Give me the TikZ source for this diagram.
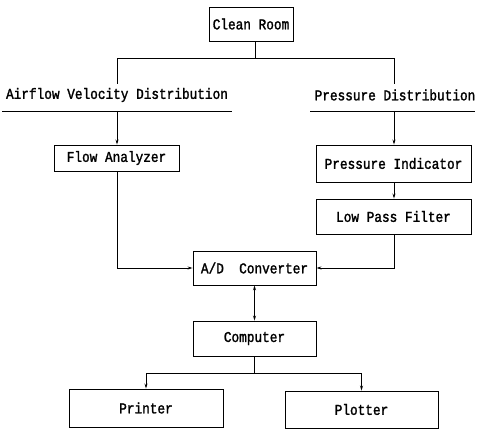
\documentclass[tikz,border=0pt]{standalone}
\usepackage{fontspec}
\setmonofont[FakeStretch=0.85,FakeBold=1.6]{Liberation Mono}
\usetikzlibrary{arrows.meta}
\begin{document}
\begin{tikzpicture}[x=1pt,y=-1pt,
  box/.style={draw,line width=0.9pt,inner sep=0pt,font=\ttfamily\fontsize{15}{15}\selectfont},
  lbl/.style={inner sep=0pt,font=\ttfamily\fontsize{15}{15}\selectfont},
  ln/.style={line width=0.9pt},
  arr/.style={ln,-{Stealth[length=5pt,width=3pt]}}]
\useasboundingbox (0,0) rectangle (477,430);
\node[box,minimum width=84pt,minimum height=34pt] (cr) at (251,24) {Clean Room};
\node[lbl] (av) at (117,95) {Airflow Velocity Distribution};
\node[lbl] (pd) at (395,95) {Pressure Distribution};
\node[box,minimum width=125pt,minimum height=26pt] (fa) at (116.5,158) {Flow Analyzer};
\node[box,minimum width=155pt,minimum height=37pt] (pi) at (393.5,163.5) {Pressure Indicator};
\node[box,minimum width=155pt,minimum height=35pt] (lpf) at (393.5,216.5) {Low Pass Filter};
\node[box,minimum width=123pt,minimum height=34pt] (ad) at (254.5,268) {A/D\ \ Converter};
\node[box,minimum width=123pt,minimum height=35pt] (cp) at (254.5,338.5) {Computer};
\node[box,minimum width=154pt,minimum height=38pt] (pr) at (146,408) {Printer};
\node[box,minimum width=153pt,minimum height=37pt] (pl) at (361.5,409.5) {Plotter};
% underlines
\coordinate (ul1) at (2,111); \coordinate (ul2) at (232,111);
\coordinate (ur1) at (310,111); \coordinate (ur2) at (475,111);
\draw[ln] (ul1) -- (ul2);
\draw[ln] (ur1) -- (ur2);
% top tree
\coordinate (j1) at (255,58);
\coordinate (la) at (117,84);
\coordinate (ra) at (394,84);
\draw[ln] (cr.south -| j1) -- (j1) -| (la);
\draw[ln] (j1) -| (ra);
\coordinate (fl) at (117,111);
\coordinate (fr) at (394,111);
\draw[arr] (fl) -- (fa.north -| fl);
\draw[arr] (fr) -- (pi.north -| fr);
\draw[arr] (pi.south -| fr) -- (lpf.north -| fr);
\draw[arr] (fa.south -| fl) |- (ad.west);
\draw[arr] (lpf.south -| fr) |- (ad.east);
\draw[ln,{Stealth[length=5pt,width=3pt]}-{Stealth[length=5pt,width=3pt]}] (ad.south) -- (cp.north);
\coordinate (j2) at (254.5,373);
\draw[arr] (cp.south) -- (j2) -| (pr.north);
\draw[arr] (j2) -| (pl.north);
\end{tikzpicture}
\end{document}
